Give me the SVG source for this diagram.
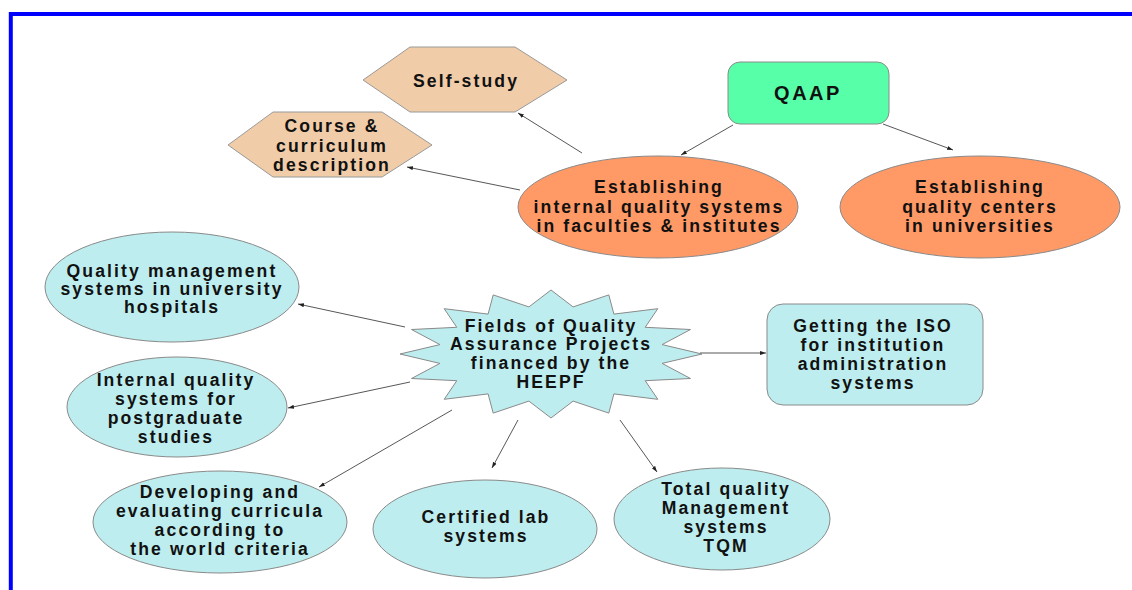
<svg xmlns="http://www.w3.org/2000/svg" width="1132" height="590" viewBox="0 0 1132 590">
<style>
.t{font-family:"Liberation Sans",Arial,sans-serif;font-weight:bold;font-size:17.6px;letter-spacing:2.1px;text-anchor:middle;fill:#111}
.big{font-size:20px;letter-spacing:2.5px}
.hex{fill:#F0CCA8;stroke:#9a9a9a;stroke-width:1}
.org{fill:#FF9966;stroke:#8a8a8a;stroke-width:1}
.cy{fill:#BDEDEE;stroke:#8a8a8a;stroke-width:1}
.grn{fill:#57FFA9;stroke:#8a8a8a;stroke-width:1}
.c{stroke:#444;stroke-width:0.9;fill:none;marker-end:url(#ah)}
</style>
<defs>
<marker id="ah" markerUnits="userSpaceOnUse" markerWidth="8" markerHeight="6" refX="6" refY="2.5" orient="auto">
<path d="M0,0.5 L6,2.5 L0,4.5 z" fill="#222"/>
</marker>
</defs>
<rect width="1132" height="590" fill="#fff"/>
<path d="M10.8,590 V14 H1132" fill="none" stroke="#0000FF" stroke-width="4"/>
<g id="connectors">
<line class="c" x1="733" y1="125" x2="681" y2="155"/>
<line class="c" x1="883" y1="124" x2="953" y2="150"/>
<line class="c" x1="582" y1="153" x2="518" y2="113"/>
<line class="c" x1="520" y1="190" x2="407" y2="167"/>
<line class="c" x1="700" y1="353" x2="766" y2="353"/>
<line class="c" x1="405" y1="327" x2="298" y2="304"/>
<line class="c" x1="410" y1="382" x2="288" y2="408"/>
<line class="c" x1="452" y1="410" x2="319" y2="487"/>
<line class="c" x1="518" y1="420" x2="492" y2="468"/>
<line class="c" x1="620" y1="420" x2="657" y2="472"/>
</g>
<g id="self-study">
<polygon class="hex" points="363,80 410,47 515,47 567,80 515,112 410,112"/>
<text class="t" x="466" y="87">Self-study</text>
</g>
<g id="course">
<polygon class="hex" points="228,145 273,112 382,112 432,145 382,177 273,177"/>
<text class="t" x="332" y="132">Course &amp;</text>
<text class="t" x="332" y="152">curriculum</text>
<text class="t" x="332" y="171">description</text>
</g>
<g id="qaap">
<rect class="grn" x="728" y="62" width="161" height="62" rx="12"/>
<text class="t big" x="808" y="100">QAAP</text>
</g>
<g id="est-internal">
<ellipse class="org" cx="658" cy="207" rx="140" ry="51"/>
<text class="t" x="659" y="193">Establishing</text>
<text class="t" x="659" y="213">internal quality systems</text>
<text class="t" x="659" y="232">in faculties &amp; institutes</text>
</g>
<g id="est-centers">
<ellipse class="org" cx="980" cy="207" rx="140" ry="51"/>
<text class="t" x="980" y="193">Establishing</text>
<text class="t" x="980" y="213">quality centers</text>
<text class="t" x="980" y="232">in universities</text>
</g>
<g id="fields">
<polygon class="cy" points="551,290 573.1,306.9 608.8,294.9 613.9,314.1 657.8,308.7 645.2,327.3 690.5,329.5 662.1,344.6 702,354 662.1,363.4 690.5,378.5 645.2,380.7 657.8,399.3 613.9,393.9 608.8,413.1 573.1,401.1 551,418 528.9,401.1 493.2,413.1 488.1,393.9 444.2,399.3 456.8,380.7 411.5,378.5 439.9,363.4 400,354 439.9,344.6 411.5,329.5 456.8,327.3 444.2,308.7 488.1,314.1 493.2,294.9 528.9,306.9"/>
<text class="t" x="551" y="332">Fields of Quality</text>
<text class="t" x="551" y="350">Assurance Projects</text>
<text class="t" x="551" y="369">financed by the</text>
<text class="t" x="551" y="388">HEEPF</text>
</g>
<g id="iso">
<rect class="cy" x="767" y="304" width="216" height="101" rx="16"/>
<text class="t" x="873" y="332">Getting the ISO</text>
<text class="t" x="873" y="351">for institution</text>
<text class="t" x="873" y="370">administration</text>
<text class="t" x="873" y="389">systems</text>
</g>
<g id="qm-hospitals">
<ellipse class="cy" cx="172" cy="287" rx="127" ry="55"/>
<text class="t" x="172" y="277">Quality management</text>
<text class="t" x="172" y="295">systems in university</text>
<text class="t" x="172" y="313">hospitals</text>
</g>
<g id="postgraduate">
<ellipse class="cy" cx="177" cy="407" rx="110" ry="50"/>
<text class="t" x="176" y="386">Internal quality</text>
<text class="t" x="176" y="405">systems for</text>
<text class="t" x="176" y="424">postgraduate</text>
<text class="t" x="176" y="443">studies</text>
</g>
<g id="developing">
<ellipse class="cy" cx="220" cy="522" rx="127" ry="51"/>
<text class="t" x="220" y="498">Developing and</text>
<text class="t" x="220" y="517">evaluating curricula</text>
<text class="t" x="220" y="536">according to</text>
<text class="t" x="220" y="555">the world criteria</text>
</g>
<g id="certified">
<ellipse class="cy" cx="485" cy="529" rx="112" ry="49"/>
<text class="t" x="486" y="523">Certified lab</text>
<text class="t" x="486" y="542">systems</text>
</g>
<g id="tqm">
<ellipse class="cy" cx="722" cy="519" rx="108" ry="51"/>
<text class="t" x="726" y="495">Total quality</text>
<text class="t" x="726" y="514">Management</text>
<text class="t" x="726" y="533">systems</text>
<text class="t" x="726" y="552">TQM</text>
</g>
</svg>
